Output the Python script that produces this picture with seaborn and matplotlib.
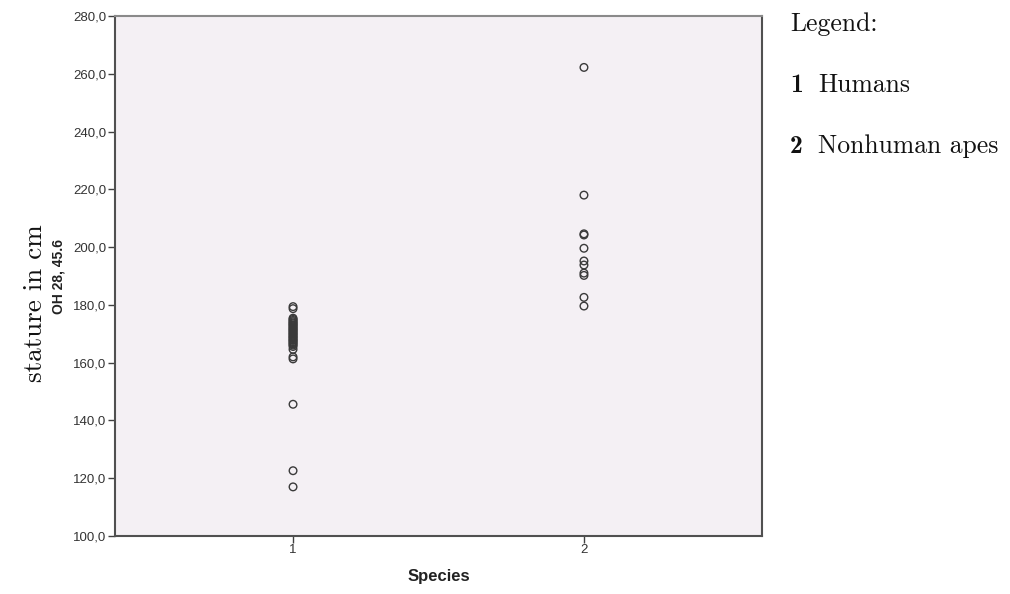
import matplotlib
matplotlib.use("Agg")
import matplotlib.pyplot as plt
import seaborn as sns
import pandas as pd
from matplotlib.ticker import FuncFormatter

# ---- data ----
humans = [179.4, 178.7, 175.4, 175.0, 174.6, 174.2, 173.8, 173.5, 173.1, 172.8,
          172.4, 172.0, 171.7, 171.3, 171.0, 170.6, 170.2, 169.9, 169.5, 169.1,
          168.8, 168.4, 168.0, 167.7, 167.3, 166.9, 166.5, 166.1, 165.6, 164.6,
          162.0, 161.3, 145.6, 122.6, 117.0]
apes = [262.2, 218.0, 204.6, 204.2, 199.6, 195.2, 193.8, 191.0, 190.2, 182.6, 179.6]
species_codes = [1, 2]
y_ticks = [100, 120, 140, 160, 180, 200, 220, 240, 260, 280]
legend_items = [("1", "Humans"), ("2", "Nonhuman apes")]

df = pd.DataFrame({
    "Species": [1] * len(humans) + [2] * len(apes),
    "stature": humans + apes,
})

sns.set_theme(style="white")
plt.rcParams["font.family"] = ["Liberation Sans", "DejaVu Sans"]

fig = plt.figure(figsize=(10.10, 5.94), dpi=100)
fig.patch.set_facecolor("white")
ax = fig.add_axes([115 / 1010, 58 / 594, 647 / 1010, 520 / 594])
ax.set_facecolor("#F4F0F4")

sns.scatterplot(data=df, x="Species", y="stature", ax=ax, marker="o",
                s=30, facecolor="none", edgecolor="#3a3a3a", linewidth=1.0,
                legend=False)

ax.set_xlim(0.388, 2.612)
ax.set_ylim(100, 280)
ax.set_xticks(species_codes)
ax.set_xticklabels([str(c) for c in species_codes])
ax.set_yticks(y_ticks)
ax.yaxis.set_major_formatter(FuncFormatter(lambda v, p: f"{v:.1f}".replace(".", ",")))

for sp in ax.spines.values():
    sp.set_visible(True)
    sp.set_color("#505050")
    sp.set_linewidth(1.5)
ax.spines["top"].set_color("#8a8a8a")

ax.tick_params(axis="both", which="major", direction="out", length=5, width=1,
               color="#404040", labelsize=9.5, labelcolor="#333333", pad=1,
               left=True, bottom=True)

ax.set_xlabel("Species", fontsize=12, fontweight="bold", color="#222222", labelpad=9)
ax.set_ylabel("OH 28, 45.6", fontsize=10, fontweight="bold", color="#222222", labelpad=6)

# outer serif label
fig.text(35 / 1010, 1 - 303 / 594, "stature in cm", rotation=90, ha="center", va="center",
         fontsize=19.5, family="cmr10", color="#111111")

# legend text block
fig.text(790 / 1010, 1 - 31 / 594, "Legend:", ha="left", va="baseline",
         fontsize=18.5, family="cmr10", color="#111111")
base_y = [92, 153]
for (code, name), by in zip(legend_items, base_y):
    fig.text(790 / 1010, 1 - by / 594, code, ha="left", va="baseline",
             fontsize=18.5, family="cmb10", color="#111111")
    fig.text(818 / 1010, 1 - by / 594, name, ha="left", va="baseline",
             fontsize=18.5, family="cmr10", color="#111111")

fig.savefig("out.png", dpi=100, facecolor="white")
